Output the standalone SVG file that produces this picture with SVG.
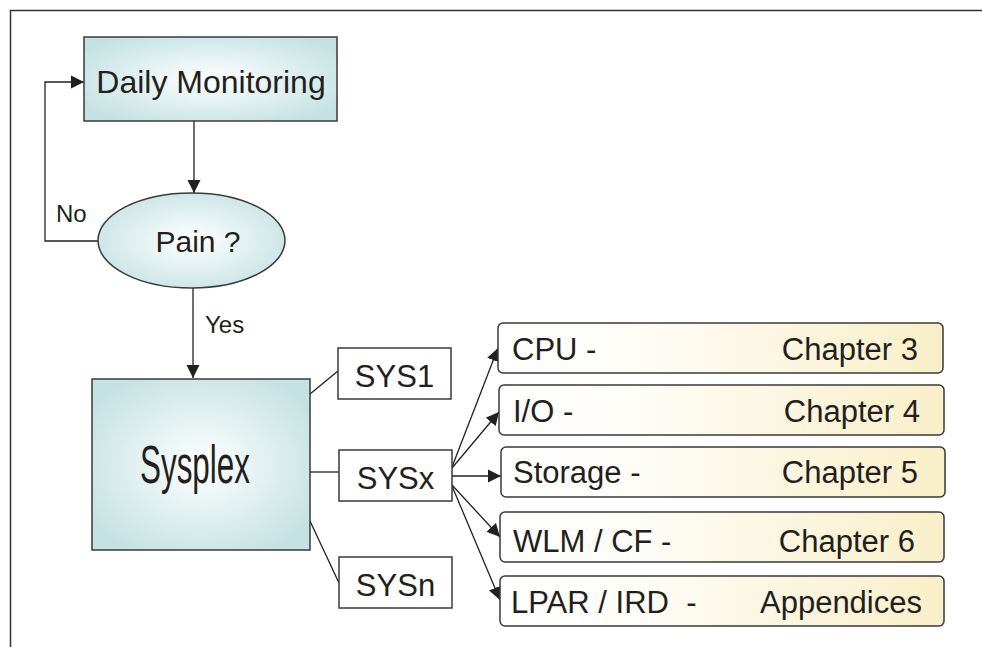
<svg xmlns="http://www.w3.org/2000/svg" width="982" height="647" viewBox="0 0 982 647">
<style>
text{font-family:"Liberation Sans",Arial,sans-serif;fill:#231f20}
.t{font-size:31px}
.s{font-size:24px}
.box{stroke:#3a3a3a;stroke-width:1.5}
.plain{fill:#fff;stroke:#3a3a3a;stroke-width:1.5}
.ch{fill:url(#yel);stroke:#3a3a3a;stroke-width:1.5}
.ln{fill:none;stroke:#231f20;stroke-width:1.3}
.ar{marker-end:url(#ah)}
</style>
<defs>
<radialGradient id="teal" cx="0.5" cy="0.5" r="0.6">
<stop offset="0" stop-color="#ffffff"/>
<stop offset="1" stop-color="#c4e2e2"/>
</radialGradient>
<linearGradient id="yel" x1="0" y1="0" x2="1" y2="0">
<stop offset="0" stop-color="#ffffff"/>
<stop offset="0.3" stop-color="#fefdf8"/>
<stop offset="1" stop-color="#f9efc8"/>
</linearGradient>
<marker id="ah" markerUnits="userSpaceOnUse" markerWidth="14" markerHeight="14" viewBox="0 0 14 14" refX="13" refY="7" orient="auto">
<path d="M0,0.5 L13,7 L0,13.5 Z" fill="#231f20"/>
</marker>
</defs>
<g id="frame">
<path d="M10.5,647 V10.5 H982" fill="none" stroke="#333" stroke-width="1.5"/>
</g>
<g id="connectors">
<path class="ln ar" d="M194,121 V193"/>
<path class="ln ar" d="M98,241 H45 V82 H84"/>
<path class="ln ar" d="M193,288 V378"/>
<path class="ln" d="M310,394 L338,371"/>
<path class="ln" d="M310,472 H339"/>
<path class="ln" d="M310,521 L339,583"/>
<path class="ln ar" d="M452,467 L498,348"/>
<path class="ln ar" d="M452,468 L499,412"/>
<path class="ln ar" d="M452,476 H501"/>
<path class="ln ar" d="M452,485 L500,537"/>
<path class="ln ar" d="M452,486 L500,600"/>
<text class="s" x="56" y="222">No</text>
<text class="s" x="205" y="333">Yes</text>
</g>
<g id="daily">
<rect class="box" x="84" y="37" width="253" height="84" fill="url(#teal)"/>
<text x="211" y="93" font-size="32" text-anchor="middle">Daily Monitoring</text>
</g>
<g id="pain">
<ellipse class="box" cx="191.5" cy="240.5" rx="93.5" ry="47.5" fill="url(#teal)"/>
<text x="198" y="252" font-size="30" text-anchor="middle">Pain ?</text>
</g>
<g id="sysplex">
<rect class="box" x="92" y="379" width="218" height="171" fill="url(#teal)"/>
<text x="195" y="483" font-size="54" text-anchor="middle" textLength="110" lengthAdjust="spacingAndGlyphs">Sysplex</text>
</g>
<g id="sys1">
<rect class="plain" x="338" y="348" width="113" height="51"/>
<text class="t" x="394.5" y="387" text-anchor="middle">SYS1</text>
</g>
<g id="sysx">
<rect class="plain" x="339" y="450" width="113" height="51"/>
<text class="t" x="395.5" y="489" text-anchor="middle">SYSx</text>
</g>
<g id="sysn">
<rect class="plain" x="339" y="557" width="113" height="51"/>
<text class="t" x="395.5" y="596" text-anchor="middle">SYSn</text>
</g>
<g id="cpu">
<rect class="ch" x="498" y="323" width="445" height="50" rx="5"/>
<text class="t" x="512" y="360">CPU -</text>
<text class="t" x="918" y="360" text-anchor="end">Chapter 3</text>
</g>
<g id="io">
<rect class="ch" x="499" y="385" width="445" height="50" rx="5"/>
<text class="t" x="513" y="422">I/O -</text>
<text class="t" x="920" y="422" text-anchor="end">Chapter 4</text>
</g>
<g id="storage">
<rect class="ch" x="501" y="447" width="444" height="50" rx="5"/>
<text class="t" x="513" y="483">Storage -</text>
<text class="t" x="918" y="483" text-anchor="end">Chapter 5</text>
</g>
<g id="wlm">
<rect class="ch" x="500" y="512" width="444" height="50" rx="5"/>
<text class="t" x="513" y="552">WLM / CF -</text>
<text class="t" x="915" y="552" text-anchor="end">Chapter 6</text>
</g>
<g id="lpar">
<rect class="ch" x="500" y="576" width="444" height="50" rx="5"/>
<text class="t" x="511" y="613" xml:space="preserve">LPAR / IRD  -</text>
<text class="t" x="922" y="613" text-anchor="end">Appendices</text>
</g>
</svg>
